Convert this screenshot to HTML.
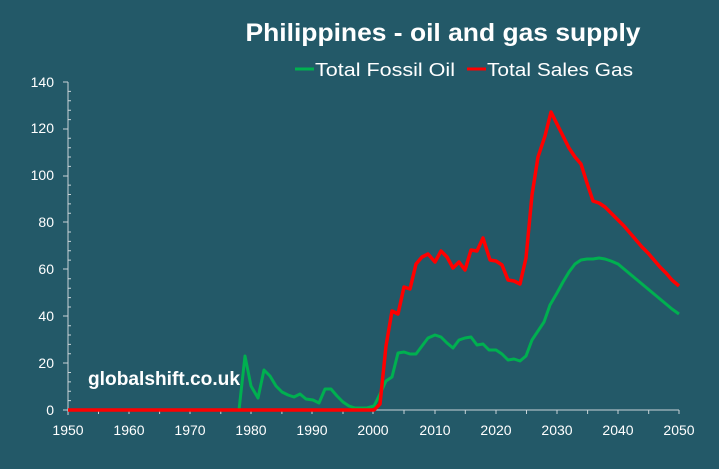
<!DOCTYPE html>
<html><head><meta charset="utf-8"><style>
html,body{margin:0;padding:0;background:#235968;}
svg{display:block;}
text{font-family:"Liberation Sans",sans-serif;fill:#fff;}
</style></head><body>
<svg width="719" height="469" viewBox="0 0 719 469">
<rect width="719" height="469" fill="#235968"/>
<text x="443" y="41" font-size="25" font-weight="bold" text-anchor="middle" textLength="395" lengthAdjust="spacingAndGlyphs">Philippines - oil and gas supply</text>
<line x1="295" y1="69" x2="314" y2="69" stroke="#00b050" stroke-width="3"/>
<text x="315" y="76" font-size="18" textLength="140" lengthAdjust="spacingAndGlyphs">Total Fossil Oil</text>
<line x1="467" y1="69" x2="486" y2="69" stroke="#ff0000" stroke-width="3"/>
<text x="487" y="76" font-size="18" textLength="146" lengthAdjust="spacingAndGlyphs">Total Sales Gas</text>
<g stroke="#c8d4d8" stroke-width="1">
<line x1="68" y1="82" x2="68" y2="410"/>
<line x1="68" y1="410" x2="679" y2="410"/>
</g>
<g font-size="14" text-anchor="end">
<text x="54" y="415">0</text><text x="54" y="368">20</text><text x="54" y="321">40</text><text x="54" y="274">60</text><text x="54" y="227">80</text><text x="54" y="180">100</text><text x="54" y="133">120</text><text x="54" y="87">140</text>
</g>
<g font-size="14" text-anchor="middle">
<text x="68" y="435">1950</text><text x="129" y="435">1960</text><text x="190" y="435">1970</text><text x="251" y="435">1980</text><text x="312" y="435">1990</text><text x="373" y="435">2000</text><text x="435" y="435">2010</text><text x="496" y="435">2020</text><text x="557" y="435">2030</text><text x="618" y="435">2040</text><text x="679" y="435">2050</text>
</g>
<g stroke="#c8d4d8" stroke-width="1">
<path d="M63 410H68M63 363H68M63 316H68M63 269H68M63 222H68M63 176H68M63 129H68M63 82H68"/>
<path d="M68 400.6H71M68 391.3H71M68 381.9H71M68 372.5H71M68 353.8H71M68 344.4H71M68 335H71M68 325.7H71M68 307H71M68 297.6H71M68 288.2H71M68 278.8H71M68 260.1H71M68 250.7H71M68 241.4H71M68 232H71M68 213.2H71M68 203.9H71M68 194.5H71M68 185.1H71M68 166.4H71M68 157H71M68 147.7H71M68 138.3H71M68 119.6H71M68 110.2H71M68 100.8H71M68 91.4H71"/>
<path d="M68 410V415M98.5 410V414M129 410V414M159.6 410V414M190 410V414M220.8 410V414M251 410V414M281.9 410V414M312 410V414M343 410V414M373 410V414M404 410V414M435 410V414M465.3 410V414M496 410V414M526.5 410V414M557 410V414M587.6 410V414M618 410V414M648.7 410V414M679 410V414"/>
</g>
<text x="88" y="385" font-size="19" font-weight="bold" font-family="DejaVu Sans,sans-serif" textLength="152" lengthAdjust="spacingAndGlyphs">globalshift.co.uk</text>
<polyline fill="none" stroke="#00b050" stroke-width="3" stroke-linejoin="round" points="239,410 245,356 251,386 258,398 264,370 270,376 276,386 282,392 288,395 294,397 300,394 306,399 313,400 319,403 325,389 331,389 337,396 343,402 349,406 355,408 361,408 367,408 374,406 380,394 386,381 392,377 398,353 404,352 410,354 416,354 422,346 428,338 435,335 441,337 447,343 453,348 459,340 465,338 471,337 477,345 483,344 489,350 496,350 502,354 508,360 514,359 520,361 526,356 532,340 538,331 544,322 550,305 557,293 563,282 569,272 575,264 581,260 587,259 593,259 599,258 605,259 611,261 618,264 624,269 630,274 636,279 642,284 648,289 654,294 660,299 666,304 672,309 679,314"/>
<polyline fill="none" stroke="#ff0000" stroke-width="3.5" stroke-linejoin="round" points="68,410 374,410 380,404 386,346 392,311 398,314 404,287 410,289 416,264 422,257 428,254 435,262 441,251 447,257 453,268 459,262 465,270 471,250 477,251 483,238 490,260 496,261 502,265 508,280 514,281 520,284 526,258 532,195 538,157 545,136 551,112 557,124 563,136 569,148 575,157 581,164 587,183 593,201 599,203 605,207 611,213 618,220 624,226 630,233 636,240 642,247 648,253 654,260 660,267 666,273 672,280 679,286"/>
</svg>
</body></html>
